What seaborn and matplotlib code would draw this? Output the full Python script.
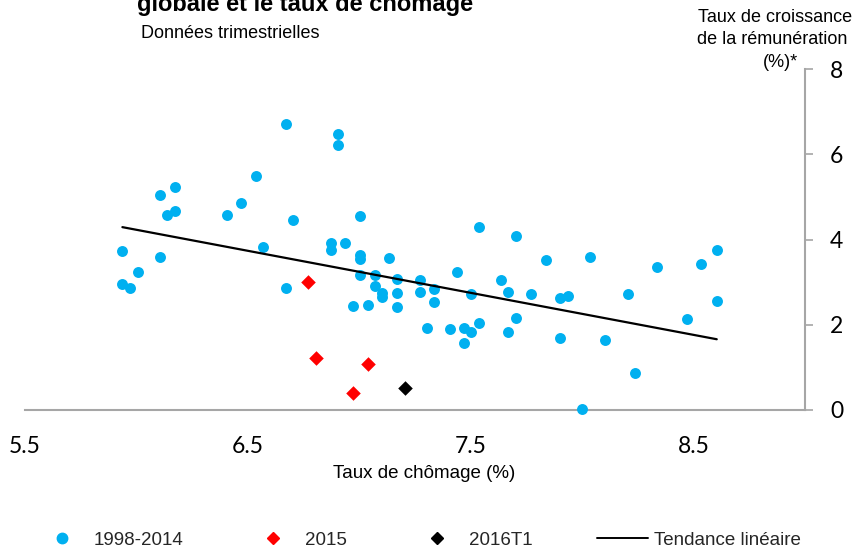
import matplotlib
matplotlib.use("Agg")
import matplotlib.pyplot as plt
import seaborn as sns
import pandas as pd
from matplotlib.lines import Line2D

# ---- data ----
x_1998_2014 = [5.937, 5.937, 5.972, 6.007, 6.104, 6.104, 6.137, 6.171, 6.171, 6.405,
               6.471, 6.537, 6.570, 6.672, 6.672, 6.704, 6.871, 6.871, 6.904, 6.904,
               6.937, 6.971, 7.004, 7.004, 7.004, 7.004, 7.038, 7.070, 7.070, 7.103,
               7.103, 7.133, 7.169, 7.169, 7.169, 7.272, 7.272, 7.337, 7.337, 7.437,
               7.503, 7.536, 7.636, 7.669, 7.704, 7.770, 7.837, 7.901, 7.936, 7.304,
               7.406, 7.469, 7.503, 7.469, 7.536, 7.669, 7.704, 7.901, 7.999, 8.036,
               8.104, 8.204, 8.237, 8.337, 8.471, 8.535, 8.604, 8.604]
y_1998_2014 = [3.73, 2.96, 2.86, 3.24, 3.60, 5.05, 4.58, 4.66, 5.22, 4.58,
               4.85, 5.48, 3.83, 6.72, 2.86, 4.45, 3.92, 3.75, 6.47, 6.22,
               3.92, 2.44, 4.54, 3.63, 3.55, 3.16, 2.46, 3.16, 2.92, 2.75,
               2.65, 3.57, 3.08, 2.75, 2.42, 3.06, 2.78, 2.85, 2.53, 3.24,
               2.73, 4.30, 3.06, 2.77, 4.09, 2.73, 3.53, 2.63, 2.67, 1.93,
               1.89, 1.93, 1.82, 1.57, 2.03, 1.84, 2.16, 1.70, 0.02, 3.59,
               1.64, 2.73, 0.86, 3.35, 2.13, 3.43, 3.76, 2.56]
x_2015 = [6.770, 6.805, 7.038, 6.971]
y_2015 = [3.01, 1.23, 1.09, 0.39]
x_2016 = [7.205]
y_2016 = [0.51]
trend_x = [5.937, 8.604]
trend_y = [4.29, 1.66]

x_ticks = [5.5, 6.5, 7.5, 8.5]
y_ticks = [0, 2, 4, 6, 8]

labels = ["1998-2014", "2015", "2016T1", "Tendance linéaire"]
title_txt = "globale et le taux de chômage"
subtitle_txt = "Données trimestrielles"
ylabel_lines = ["Taux de croissance", "de la rémunération", "(%)*"]
xlabel_txt = "Taux de chômage (%)"

BLUE = "#00B0F0"
RED = "#FF0000"
GREY = "#A6A6A6"

sns.set_theme(style="white")
plt.rcParams["font.family"] = ["Liberation Sans", "DejaVu Sans"]

fig = plt.figure(figsize=(8.58, 5.50), dpi=100)
ax = fig.add_axes([25 / 858, 1 - 410 / 550, 780 / 858, 341 / 550])

df_a = pd.DataFrame({"x": x_1998_2014, "y": y_1998_2014})
df_b = pd.DataFrame({"x": x_2015, "y": y_2015})
df_c = pd.DataFrame({"x": x_2016, "y": y_2016})
df_t = pd.DataFrame({"x": trend_x, "y": trend_y})

sns.lineplot(data=df_t, x="x", y="y", ax=ax, color="black", linewidth=1.6, zorder=4)
sns.scatterplot(data=df_a, x="x", y="y", ax=ax, color=BLUE, s=62, linewidth=0,
                marker="o", zorder=3, clip_on=False)
sns.scatterplot(data=df_b, x="x", y="y", ax=ax, color=RED, s=55, linewidth=0,
                marker="D", zorder=5, clip_on=False)
sns.scatterplot(data=df_c, x="x", y="y", ax=ax, color="black", s=55, linewidth=0,
                marker="D", zorder=5, clip_on=False)

ax.set_xlim(5.5, 9.0)
ax.set_ylim(0, 8)
ax.set_xticks(x_ticks)
ax.set_xticklabels([f"{v:.1f}" for v in x_ticks])
ax.set_yticks(y_ticks)
ax.set_yticklabels([str(v) for v in y_ticks])
ax.yaxis.tick_right()
ax.set_xlabel("")
ax.set_ylabel("")

for side in ["top", "left"]:
    ax.spines[side].set_visible(False)
for side in ["bottom", "right"]:
    ax.spines[side].set_visible(True)
    ax.spines[side].set_color(GREY)
    ax.spines[side].set_linewidth(1.5)

ax.tick_params(axis="x", length=0, pad=19, labelsize=16.5, labelcolor="black")
ax.tick_params(axis="y", which="both", right=True, left=False, length=6,
               width=1.2, color=GREY, pad=12, labelsize=16.5, labelcolor="black")
for lab in ax.get_xticklabels() + ax.get_yticklabels():
    lab.set_fontfamily(["Lato", "DejaVu Sans"])

fig.text(137 / 858, 1 - 11 / 550, title_txt, fontsize=17, fontweight="bold",
         ha="left", va="baseline", color="black")
fig.text(141 / 858, 1 - 33 / 550, subtitle_txt, fontsize=13, ha="left",
         va="center", color="black")
for txt, cx, cy in zip(ylabel_lines, [775, 772, 780], [18, 40, 62]):
    fig.text(cx / 858, 1 - cy / 550, txt, fontsize=13, ha="center",
             va="center", color="black")
fig.text(424 / 858, 1 - 474 / 550, xlabel_txt, fontsize=13.5, ha="center",
         va="center", color="black")

handles = [
    Line2D([], [], marker="o", color=BLUE, linestyle="none", markersize=7.5),
    Line2D([], [], marker="D", color=RED, linestyle="none", markersize=6.5),
    Line2D([], [], marker="D", color="black", linestyle="none", markersize=6.5),
    Line2D([], [], color="black", linewidth=1.4),
]
fig.legend(handles, labels, loc="center left", bbox_to_anchor=(36 / 858, 10 / 550),
           ncol=4, frameon=False, fontsize=13.5, handlelength=2.75,
           handletextpad=0.3, columnspacing=3.45, borderpad=0, borderaxespad=0)

fig.savefig("out.png", dpi=100)
